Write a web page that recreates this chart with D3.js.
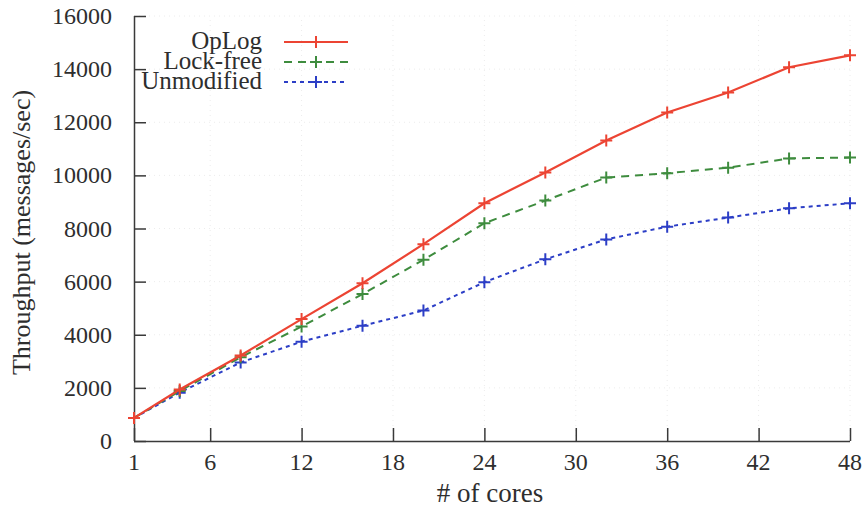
<!DOCTYPE html>
<html>
<head>
<meta charset="utf-8">
<script src="https://cdn.jsdelivr.net/npm/d3@7"></script>
<style>
  html, body { margin: 0; padding: 0; background: #fff; }
  svg { display: block; }
</style>
</head>
<body>
<svg id="chart" width="862" height="508"></svg>
<script>
// Core counts measured
const cores = [1, 4, 8, 12, 16, 20, 24, 28, 32, 36, 40, 44, 48];

// Throughput (messages/sec) for each variant
const oplog      = [870, 1940, 3220, 4590, 5940, 7410, 8950, 10110, 11310, 12370, 13120, 14070, 14520];
const lockFree   = [870, 1880, 3150, 4310, 5530, 6820, 8200, 9050, 9920, 10080, 10290, 10640, 10670];
const unmodified = [870, 1820, 2960, 3740, 4340, 4910, 5980, 6840, 7590, 8070, 8410, 8760, 8950];

const seriesNames = ["OpLog", "Lock-free", "Unmodified"];
const xTicks = [1, 6, 12, 18, 24, 30, 36, 42, 48];
const yTicks = [0, 2000, 4000, 6000, 8000, 10000, 12000, 14000, 16000];

const FONT = "'Liberation Serif', 'Times New Roman', serif";
const INK = "#2e2e2e";

const series = [
  { name: seriesNames[0], values: oplog,      color: "#ec4433", dash: null,  width: 2.2 },
  { name: seriesNames[1], values: lockFree,   color: "#3e8c3e", dash: "8,6", width: 2 },
  { name: seriesNames[2], values: unmodified, color: "#2c3ec6", dash: "4,4", width: 2 }
];

const svg = d3.select("#chart");
const m = { left: 134, right: 12, top: 16, bottom: 67 };
const W = 862, H = 508;

const x = d3.scaleLinear().domain([1, 48]).range([m.left, W - m.right]);
const y = d3.scaleLinear().domain([0, 16000]).range([H - m.bottom, m.top]);

const label = (sel) => sel.attr("font-family", FONT).attr("fill", INK);

// faint dotted grid
const grid = svg.append("g").attr("stroke", "#ececec").attr("stroke-width", 1).attr("stroke-dasharray", "1,4");
grid.selectAll("line.v").data(xTicks.slice(1)).join("line")
  .attr("x1", d => x(d)).attr("x2", d => x(d))
  .attr("y1", y(0)).attr("y2", y(16000));
grid.selectAll("line.h").data(yTicks.slice(1)).join("line")
  .attr("x1", x(1)).attr("x2", x(48))
  .attr("y1", d => y(d)).attr("y2", d => y(d));

// axes with inward ticks
const xAxis = d3.axisTop(x).tickValues(xTicks).tickSize(13).tickFormat("");
const gx = svg.append("g").attr("transform", `translate(0,${y(0)})`).call(xAxis);
const yAxis = d3.axisRight(y).tickValues(yTicks).tickSize(12).tickFormat("");
const gy = svg.append("g").attr("transform", `translate(${x(1)},0)`).call(yAxis);
[gx, gy].forEach(g => {
  g.select(".domain").attr("stroke", "#3a3a3a").attr("stroke-width", 1.5);
  g.selectAll(".tick line").attr("stroke", "#3a3a3a").attr("stroke-width", 1.5);
});
gy.select(".domain").attr("d", `M0.5,${y(16000)}V${y(0)}`);
gx.select(".domain").attr("d", `M${x(1)},0.5H${x(48)}`);

// tick labels
svg.append("g").selectAll("text").data(xTicks).join("text")
  .call(label)
  .attr("x", d => x(d)).attr("y", 470)
  .attr("text-anchor", "middle").attr("font-size", 24)
  .text(d => d);
svg.append("g").selectAll("text").data(yTicks).join("text")
  .call(label)
  .attr("x", 112).attr("y", d => y(d) + 8)
  .attr("text-anchor", "end").attr("font-size", 24)
  .text(d => d);

// axis titles
svg.append("text").call(label).attr("x", 490).attr("y", 502)
  .attr("text-anchor", "middle").attr("font-size", 27).text("# of cores");
svg.append("text").call(label)
  .attr("transform", `translate(30,${(y(0) + y(16000)) / 2 + 4}) rotate(-90)`)
  .attr("text-anchor", "middle").attr("font-size", 26).text("Throughput (messages/sec)");

// series lines and plus markers
const line = d3.line().x((d, i) => x(cores[i])).y(d => y(d));
const plus = (g, cx, cy, color) => {
  g.append("path")
    .attr("d", `M${cx - 6},${cy}H${cx + 6}M${cx},${cy - 6}V${cy + 6}`)
    .attr("stroke", color).attr("stroke-width", 2).attr("fill", "none");
};

series.slice().reverse().forEach(s => {
  const g = svg.append("g");
  g.append("path").datum(s.values)
    .attr("d", line).attr("fill", "none")
    .attr("stroke", s.color).attr("stroke-width", s.width)
    .attr("stroke-dasharray", s.dash);
  s.values.forEach((v, i) => plus(g, x(cores[i]), y(v), s.color));
});

// legend
const legend = svg.append("g");
series.forEach((s, i) => {
  const ly = 42 + i * 20;
  legend.append("text").call(label).attr("x", 262).attr("y", ly + 7)
    .attr("text-anchor", "end").attr("font-size", 25).text(s.name);
  legend.append("line").attr("x1", 284).attr("x2", 348)
    .attr("y1", ly).attr("y2", ly)
    .attr("stroke", s.color).attr("stroke-width", s.width)
    .attr("stroke-dasharray", s.dash);
  plus(legend, 316, ly, s.color);
});
</script>
</body>
</html>
